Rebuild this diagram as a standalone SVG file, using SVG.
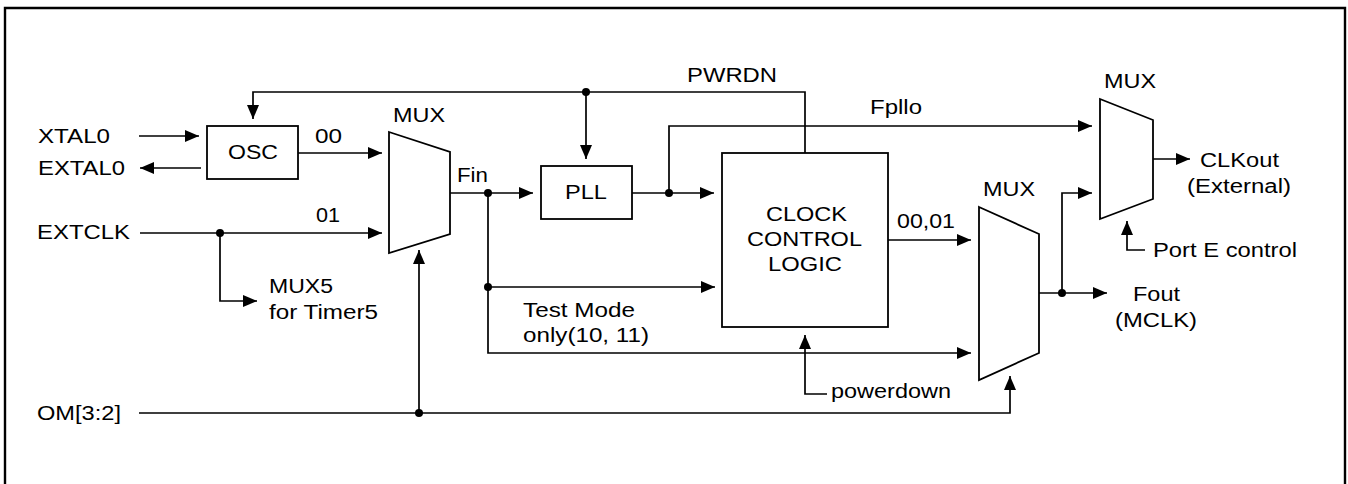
<svg xmlns="http://www.w3.org/2000/svg" width="1348" height="484" viewBox="0 0 1348 484">
<defs>
<marker id="arr" markerUnits="userSpaceOnUse" markerWidth="14" markerHeight="12" refX="14" refY="6" orient="auto">
<path d="M0,0 L14,6 L0,12 z" fill="#000"/>
</marker>
<style>
.w{fill:none;stroke:#000;stroke-width:1.7}
.a{marker-end:url(#arr)}
.d{fill:#000}
.n{fill:#fff;stroke:#000;stroke-width:1.8}
text{font-family:"Liberation Sans",Arial,sans-serif;font-size:20px;fill:#000}
</style>
</defs>
<rect width="1348" height="484" fill="#fff"/>
<path d="M5,490 V8 H1345 V490" fill="none" stroke="#000" stroke-width="2.4"/>

<g id="connectors">
<path class="w a" d="M805,153 V92 H253 V119"/>
<path class="w a" d="M586,92 V159"/>
<path class="w a" d="M139,136 H199"/>
<path class="w a" d="M201,168 H140"/>
<path class="w a" d="M298,153 H382"/>
<path class="w a" d="M140,233 H382"/>
<path class="w a" d="M220,233 V301 H257"/>
<path class="w a" d="M139,413 H1010 V376"/>
<path class="w a" d="M419,413 V250"/>
<path class="w a" d="M450,193 H533"/>
<path class="w a" d="M488,193 V353 H971"/>
<path class="w a" d="M488,287 H715"/>
<path class="w a" d="M632,193 H714"/>
<path class="w a" d="M669,193 V126 H1092"/>
<path class="w a" d="M888,240 H971"/>
<path class="w a" d="M827,394 H805 V335"/>
<path class="w a" d="M1039,293 H1107"/>
<path class="w a" d="M1062,293 V193 H1092"/>
<path class="w a" d="M1153,159 H1190"/>
<path class="w a" d="M1145,250 H1127 V221"/>
<circle class="d" cx="586" cy="92" r="4"/>
<circle class="d" cx="220" cy="233" r="4"/>
<circle class="d" cx="419" cy="413" r="4"/>
<circle class="d" cx="488" cy="193" r="4"/>
<circle class="d" cx="488" cy="287" r="4"/>
<circle class="d" cx="669" cy="193" r="4"/>
<circle class="d" cx="1062" cy="293" r="4"/>
</g>

<g id="osc">
<rect class="n" x="207" y="126" width="91" height="53"/>
<text x="228" y="159" textLength="50" lengthAdjust="spacingAndGlyphs">OSC</text>
</g>
<g id="pll">
<rect class="n" x="541" y="166" width="91" height="53"/>
<text x="565" y="199" textLength="42" lengthAdjust="spacingAndGlyphs">PLL</text>
</g>
<g id="ccl">
<rect class="n" x="722" y="153" width="166" height="174"/>
<text x="766" y="221" textLength="81" lengthAdjust="spacingAndGlyphs">CLOCK</text>
<text x="747" y="246" textLength="115" lengthAdjust="spacingAndGlyphs">CONTROL</text>
<text x="768" y="271" textLength="74" lengthAdjust="spacingAndGlyphs">LOGIC</text>
</g>
<g id="mux1">
<polygon class="n" points="389,132 450,152 450,234 389,253"/>
<text x="393" y="122" textLength="52" lengthAdjust="spacingAndGlyphs">MUX</text>
</g>
<g id="mux2">
<polygon class="n" points="979,207 1039,234 1039,353 979,380"/>
<text x="983" y="196" textLength="52" lengthAdjust="spacingAndGlyphs">MUX</text>
</g>
<g id="mux3">
<polygon class="n" points="1100,99 1153,120 1153,199 1100,219"/>
<text x="1104" y="88" textLength="52" lengthAdjust="spacingAndGlyphs">MUX</text>
</g>

<g id="labels">
<text x="38" y="143" textLength="72" lengthAdjust="spacingAndGlyphs">XTAL0</text>
<text x="38" y="175" textLength="87" lengthAdjust="spacingAndGlyphs">EXTAL0</text>
<text x="37" y="239" textLength="93" lengthAdjust="spacingAndGlyphs">EXTCLK</text>
<text x="37" y="420" textLength="84" lengthAdjust="spacingAndGlyphs">OM[3:2]</text>
<text x="315" y="143" textLength="27" lengthAdjust="spacingAndGlyphs">00</text>
<text x="316" y="222" textLength="24" lengthAdjust="spacingAndGlyphs">01</text>
<text x="269" y="293" textLength="64" lengthAdjust="spacingAndGlyphs">MUX5</text>
<text x="269" y="319" textLength="109" lengthAdjust="spacingAndGlyphs">for Timer5</text>
<text x="687" y="82" textLength="90" lengthAdjust="spacingAndGlyphs">PWRDN</text>
<text x="457" y="182" textLength="31" lengthAdjust="spacingAndGlyphs">Fin</text>
<text x="870" y="114" textLength="52" lengthAdjust="spacingAndGlyphs">Fpllo</text>
<text x="897" y="228" textLength="58" lengthAdjust="spacingAndGlyphs">00,01</text>
<text x="523" y="317" textLength="112" lengthAdjust="spacingAndGlyphs">Test Mode</text>
<text x="523" y="342" textLength="126" lengthAdjust="spacingAndGlyphs">only(10, 11)</text>
<text x="831" y="398" textLength="120" lengthAdjust="spacingAndGlyphs">powerdown</text>
<text x="1200" y="167" textLength="79" lengthAdjust="spacingAndGlyphs">CLKout</text>
<text x="1187" y="193" textLength="104" lengthAdjust="spacingAndGlyphs">(External)</text>
<text x="1153" y="257" textLength="144" lengthAdjust="spacingAndGlyphs">Port E control</text>
<text x="1133" y="301" textLength="47" lengthAdjust="spacingAndGlyphs">Fout</text>
<text x="1115" y="327" textLength="82" lengthAdjust="spacingAndGlyphs">(MCLK)</text>
</g>
</svg>
